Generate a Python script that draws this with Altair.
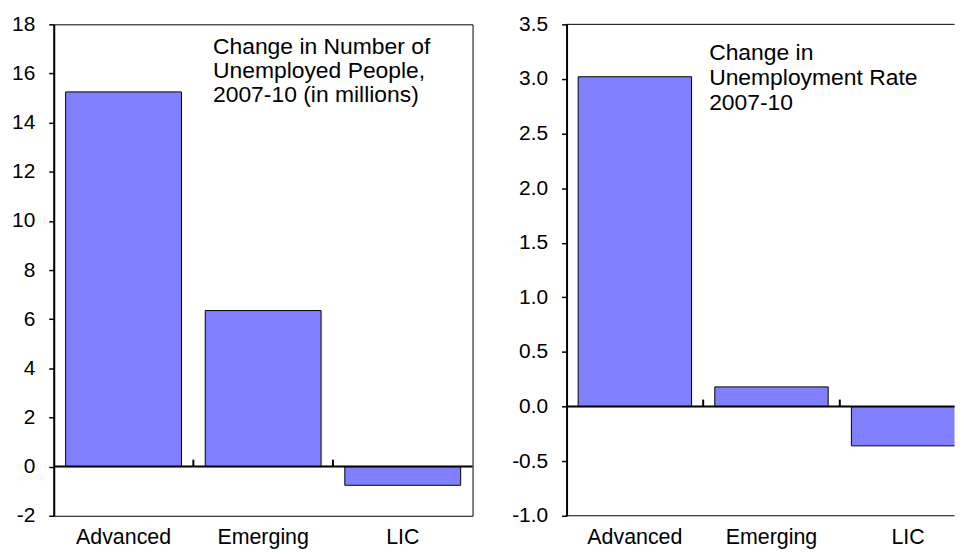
import altair as alt
import pandas as pd

# ---- data ----
categories = ["Advanced", "Emerging", "LIC"]
unemployed_change = [15.25, 6.35, -0.76]      # millions, 2007-10
rate_change = [3.02, 0.18, -0.36]             # percentage points, 2007-10
left_ticks = [-2, 0, 2, 4, 6, 8, 10, 12, 14, 16, 18]
right_ticks = [-1.0, -0.5, 0.0, 0.5, 1.0, 1.5, 2.0, 2.5, 3.0, 3.5]
left_note = "Change in Number of\nUnemployed People,\n2007-10 (in millions)"
right_note = "Change in\nUnemployment Rate\n2007-10"

FONT = "Liberation Sans"
BAR = "#8080FF"
H = 494


def panel(values, ticks, fmt, note, width, band_range, y_extent, note_y, note_dx,
          line_h, framed):
    df = pd.DataFrame({"cat": categories, "val": values})
    lo, hi = min(ticks), max(ticks)
    xscale = alt.Scale(domain=categories, paddingInner=0, paddingOuter=0,
                       range=[0, band_range])
    yscale = alt.Scale(domain=[lo, hi], nice=False, zero=False)
    label_expr = f"(datum.value < 0 ? '-' : '') + format(abs(datum.value), '{fmt}')"

    bars = alt.Chart(df).mark_bar(
        color=BAR, stroke="black", strokeWidth=1, width=alt.RelativeBandSize(0.83),
        clip=True,
    ).encode(
        x=alt.X("cat:N", scale=xscale, sort=categories, axis=None),
        y=alt.Y(
            "val:Q", scale=yscale,
            axis=alt.Axis(title=None, values=ticks, labelExpr=label_expr, grid=False,
                          domainColor="black", domainWidth=2, tickColor="black",
                          tickWidth=1.5, tickSize=5, labelPadding=14,
                          labelFontSize=21, labelFont=FONT, labelColor="black",
                          minExtent=y_extent, maxExtent=y_extent),
        ),
        y2=alt.datum(0),
    )

    # category labels under the plot
    cat_labels = alt.Chart(pd.DataFrame({"cat": categories, "b": [lo] * len(categories)})).mark_text(
        baseline="top", align="center", fontSize=21.5, font=FONT, color="black", dy=11.5,
    ).encode(
        x=alt.X("cat:N", axis=None),
        y=alt.Y("b:Q", axis=None),
        text="cat:N",
    )

    zero = alt.Chart(pd.DataFrame({"z": [0]})).mark_rule(
        color="black", strokeWidth=2
    ).encode(y=alt.Y("z:Q", axis=None))

    # small upward ticks on the zero line at the category boundaries
    bounds_df = pd.DataFrame({"cat": categories[1:], "z": [0] * (len(categories) - 1)})
    cat_ticks = alt.Chart(bounds_df).mark_rule(
        color="black", strokeWidth=2, y2Offset=-7
    ).encode(
        x=alt.X("cat:N", bandPosition=0, axis=None),
        y=alt.Y("z:Q", axis=None),
        y2="z:Q",
    )

    text = alt.Chart(pd.DataFrame({"t": [note]})).mark_text(
        align="left", baseline="alphabetic", lineBreak="\n", fontSize=23,
        font=FONT, color="black", lineHeight=line_h, dx=note_dx,
    ).encode(
        x=alt.XDatum("Emerging", bandPosition=0, axis=None),
        y=alt.YDatum(note_y, axis=None),
        text="t:N",
    )

    layers = [bars, cat_labels, zero, cat_ticks, text]
    if not framed:
        frame_df = pd.DataFrame({"b": [hi, lo]})
        layers.append(
            alt.Chart(frame_df).mark_rule(color="black", strokeWidth=1)
            .encode(y=alt.Y("b:Q", axis=None))
        )
    chart = (
        alt.layer(*layers)
        .resolve_axis(x="independent", y="independent")
        .properties(width=width, height=H)
    )
    if not framed:
        chart = chart.properties(view=alt.ViewBackground(stroke="transparent"))
    return chart


left = panel(unemployed_change, left_ticks, "d", left_note, 421, 421, 45,
             16.79, 19.7, 24.3, True)
# the right panel runs past the picture's right edge; its plot is cut at 390 px
right = panel(rate_change, right_ticks, ".1f", right_note, 390, 412, 55,
              3.176, 6.0, 25.3, False)

chart = (
    alt.hconcat(left, right, spacing=36.5)
    .properties(padding={"left": 0, "top": 3, "right": 0, "bottom": 0},
                background="white")
    .configure_view(stroke="black", strokeWidth=1)
)

chart.save("out.html", embed_options={"renderer": "svg", "actions": False})
